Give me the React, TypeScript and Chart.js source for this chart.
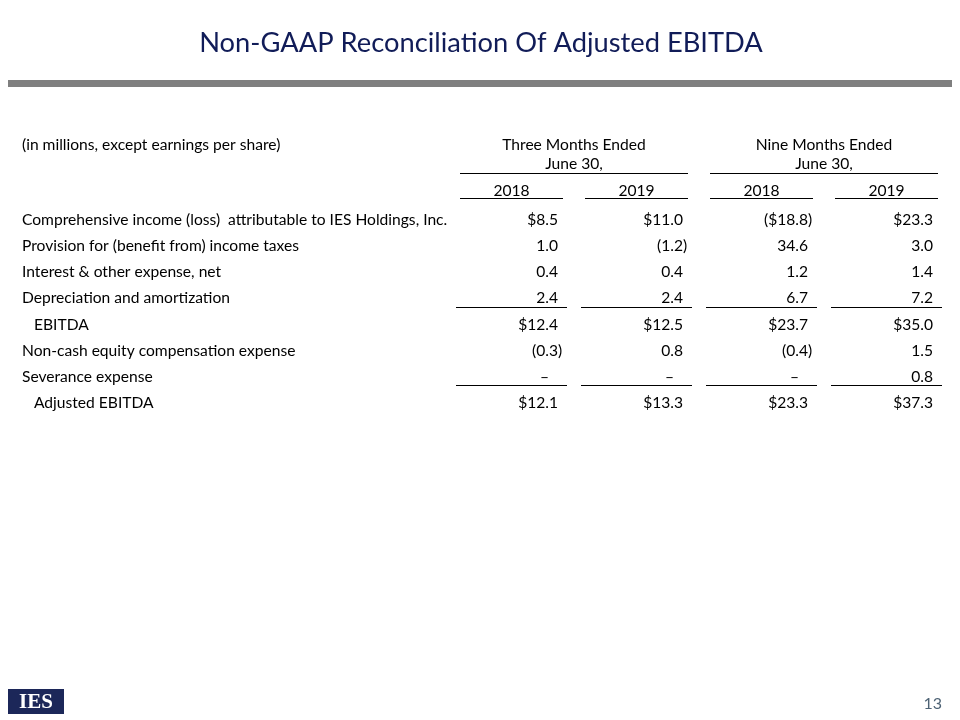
import React, { useEffect, useRef } from 'react';
import { Chart, registerables } from 'chart.js';

Chart.register(...registerables);

const titleText = 'Non-GAAP Reconciliation Of Adjusted EBITDA';
const unitNote = '(in millions, except earnings per share)';
const periodGroups = [
  ['Three Months Ended', 'June 30,'],
  ['Nine Months Ended', 'June 30,'],
];
const years = ['2018', '2019', '2018', '2019'];
const rowLabels = [
  'Comprehensive income (loss)  attributable to IES Holdings, Inc.',
  'Provision for (benefit from) income taxes',
  'Interest & other expense, net',
  'Depreciation and amortization',
  '   EBITDA',
  'Non-cash equity compensation expense',
  'Severance expense',
  '   Adjusted EBITDA',
];
const dollarRows = [0, 4, 7];
const subtotalRows = [4, 7];
const threeMonths2018 = [8.5, 1.0, 0.4, 2.4, 12.4, -0.3, null, 12.1];
const threeMonths2019 = [11.0, -1.2, 0.4, 2.4, 12.5, 0.8, null, 13.3];
const nineMonths2018 = [-18.8, 34.6, 1.2, 6.7, 23.7, -0.4, null, 23.3];
const nineMonths2019 = [23.3, 3.0, 1.4, 7.2, 35.0, 1.5, 0.8, 37.3];
const columns = [threeMonths2018, threeMonths2019, nineMonths2018, nineMonths2019];
const pageNumber = '13';
const logoText = 'IES';

const FONT = 'Lato, "Open Sans", sans-serif';
const NAVY = '#111c58';
const TS = 15.6;

const tablePlugin = {
  id: 'tablePlugin',
  afterDraw(chart: any) {
    const ctx = chart.ctx as CanvasRenderingContext2D;
    const xs = chart.scales.x;
    const ys = chart.scales.y;
    const x2 = chart.scales.x2;
    ctx.save();

    // gray rule under title
    ctx.fillStyle = '#7f7f7f';
    ctx.fillRect(8, 80, 944, 7);

    // unit note aligned with first header line
    ctx.fillStyle = '#000';
    ctx.font = `${TS}px ${FONT}`;
    ctx.textAlign = 'left';
    ctx.textBaseline = 'middle';
    ctx.fillText(unitNote, ys.left, x2.bottom - 3.5 - 1.5 * 19);

    // header rules
    ctx.strokeStyle = '#000';
    ctx.lineWidth = 1;
    const hline = (a: number, b: number, y: number) => {
      ctx.beginPath();
      ctx.moveTo(a, Math.round(y) + 0.5);
      ctx.lineTo(b, Math.round(y) + 0.5);
      ctx.stroke();
    };
    const top = chart.chartArea.top;
    for (let g = 0; g < periodGroups.length; g++) {
      const a = xs.getPixelForValue(g * 2) - 51.5;
      const b = xs.getPixelForValue(g * 2 + 1) + 51.5;
      hline(a, b, x2.bottom - 4);
    }
    for (let c = 0; c < years.length; c++) {
      const cx = xs.getPixelForValue(c);
      hline(cx - 51.5, cx + 51.5, top - 9);
    }
    // subtotal rules
    for (const r of subtotalRows) {
      const y = (ys.getPixelForValue(r - 1) + ys.getPixelForValue(r)) / 2 - 4.5;
      for (let c = 0; c < years.length; c++) {
        const cx = xs.getPixelForValue(c);
        hline(cx - 55.5, cx + 55.5, y);
      }
    }

    // cell values
    ctx.font = `${TS}px ${FONT}`;
    ctx.fillStyle = '#000';
    ctx.textBaseline = 'middle';
    chart.data.datasets.forEach((ds: any, c: number) => {
      const meta = chart.getDatasetMeta(c);
      meta.data.forEach((pt: any, i: number) => {
        const v = columns[c][i];
        const right = pt.x + 46.5;
        const y = pt.y;
        if (v === null || v === undefined) {
          ctx.textAlign = 'right';
          ctx.fillText('\u2013', right - 9, y);
          return;
        }
        const body = (dollarRows.includes(i) ? '$' : '') + Math.abs(v).toFixed(1);
        ctx.textAlign = 'right';
        if (v < 0) {
          ctx.fillText('(' + body, right, y);
          ctx.textAlign = 'left';
          ctx.fillText(')', right, y);
        } else {
          ctx.fillText(body, right, y);
        }
      });
    });

    // footer logo
    ctx.fillStyle = '#1c2759';
    ctx.fillRect(8, 689, 56, 25);
    ctx.fillStyle = '#ffffff';
    ctx.font = 'bold 21px "Liberation Serif", serif';
    ctx.textAlign = 'center';
    ctx.textBaseline = 'middle';
    ctx.fillText(logoText, 36, 702.5);

    // page number
    ctx.fillStyle = '#4d6274';
    ctx.font = `16px ${FONT}`;
    ctx.textAlign = 'right';
    ctx.fillText(pageNumber, 942, 704);
    ctx.restore();
  },
};

export default function App() {
  const ref = useRef<HTMLCanvasElement>(null);
  useEffect(() => {
    if (!ref.current) return;
    const chart = new Chart(ref.current, {
      type: 'scatter',
      data: {
        datasets: columns.map((col, c) => ({
          label: years[c],
          data: col.map((_, r) => ({ x: c, y: r })),
          pointRadius: 0,
          showLine: false,
        })),
      },
      options: {
        responsive: false,
        animation: false,
        events: [],
        layout: { padding: { left: 22, right: 20, top: 0, bottom: 304 } },
        plugins: {
          legend: { display: false },
          tooltip: { enabled: false },
          title: {
            display: true,
            text: titleText,
            color: NAVY,
            font: { family: FONT, size: 27.3, weight: 'normal', lineHeight: 1 },
            padding: { top: 29.5, bottom: 63.2 },
          },
        },
        scales: {
          x: {
            type: 'linear',
            position: 'top',
            min: -0.5,
            max: 3.428,
            weight: 0,
            grid: { display: false, drawTicks: false },
            border: { display: false },
            afterFit: (s: any) => { s.height = 30; },
            afterBuildTicks: (s: any) => { s.ticks = years.map((_, i) => ({ value: i })); },
            ticks: {
              autoSkip: false,
              maxRotation: 0,
              minRotation: 0,
              padding: 7,
              color: '#000',
              font: { family: FONT, size: TS, lineHeight: 18 / TS },
              callback: (_v: any, i: number) => years[i],
            },
          },
          x2: {
            type: 'linear',
            position: 'top',
            min: -0.5,
            max: 3.428,
            weight: 1,
            grid: { display: false, drawTicks: false },
            border: { display: false },
            afterFit: (s: any) => { s.height = 57; },
            afterBuildTicks: (s: any) => { s.ticks = periodGroups.map((_, i) => ({ value: i * 2 + 0.5 })); },
            ticks: {
              autoSkip: false,
              maxRotation: 0,
              minRotation: 0,
              padding: 3.5,
              color: '#000',
              font: { family: FONT, size: TS, lineHeight: 19 / TS },
              callback: (_v: any, i: number) => periodGroups[i],
            },
          },
          y: {
            type: 'linear',
            position: 'left',
            reverse: true,
            min: -0.5,
            max: 7.5,
            grid: { display: false, drawTicks: false },
            border: { display: false },
            afterFit: (s: any) => { s.width = 427; },
            afterBuildTicks: (s: any) => { s.ticks = rowLabels.map((_, i) => ({ value: i })); },
            ticks: {
              autoSkip: false,
              crossAlign: 'far',
              color: '#000',
              font: { family: FONT, size: TS, lineHeight: 1.2 },
              callback: (_v: any, i: number) => rowLabels[i],
            },
          },
        },
      },
      plugins: [tablePlugin],
    } as any);
    return () => chart.destroy();
  }, []);
  return (
    <div style={{ position: 'fixed', left: 0, top: 0, width: 960, height: 720, background: '#fff' }}>
      <canvas ref={ref} width={960} height={720} style={{ display: 'block' }} />
    </div>
  );
}
